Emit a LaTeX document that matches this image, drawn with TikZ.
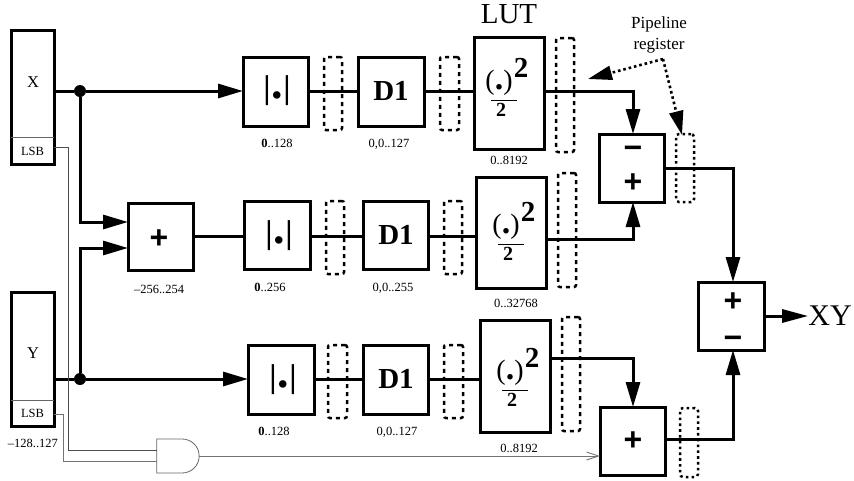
\documentclass[tikz,border=0pt]{standalone}
\usepackage{fontspec}
\setmainfont{Liberation Serif}
\newfontfamily\opfont{Liberation Sans}
\usetikzlibrary{arrows.meta,shapes.gates.logic.US}
\newcommand\bx[6]{\node[#5,minimum width={(#3-#1)*1pt},minimum height={(#4-#2)*1pt}] (#6) at ({(#1+#3)/2},{(#2+#4)/2})}
\newcommand\fsz[1]{\fontsize{#1}{#1}\selectfont}
\newcommand\squared[2]{%
  \node[lutp] (#1p) at #2 {(\textbf{\fsz{34}.})};
  \node[lutsup] (#1s) at ([shift={(22pt,15pt)}]#1p.center) {2};
  \draw[line width=1pt] ([shift={(-8pt,-17pt)}]#1p.center) coordinate (#1a) -- ([shift={(18pt,-17pt)}]#1p.center) coordinate (#1b);
  \node[lutlow] (#1l) at ([shift={(2pt,-27pt)}]#1p.center) {2};}
\tikzset{
  blk/.style={draw=black,line width=3pt,fill=white,inner sep=0pt,outer sep=0pt},
  reg/.style={draw=black,line width=2.5pt,dash pattern=on 4pt off 4pt,rounded corners=2pt,inner sep=0pt,outer sep=0pt},
  dreg/.style={draw=black,line width=2.5pt,dash pattern=on 2.6pt off 3.2pt,rounded corners=3pt,inner sep=0pt,outer sep=0pt},
  wire/.style={line width=3pt},
  arr/.style={wire,-{Triangle[length=25pt,width=14pt]}},
  thinw/.style={line width=.7pt,draw=black!70},
  grayw/.style={line width=.9pt,draw=black!55},
  lab/.style={font=\fsz{12.5},inner sep=0pt,text depth=0pt},
  dotn/.style={circle,fill=black,inner sep=0pt,minimum size=12pt,outer sep=0pt},
  absn/.style={font=\fsz{33}\bfseries,inner sep=0pt},
  dn/.style={font=\fsz{29}\bfseries,inner sep=0pt},
  opn/.style={font=\fsz{32}\opfont\bfseries,inner sep=0pt},
  lutp/.style={font=\fsz{28},inner sep=0pt},
  lutsup/.style={font=\fsz{29}\bfseries,inner sep=0pt},
  lutlow/.style={font=\fsz{20}\bfseries,inner sep=0pt},
  ptr/.style={line width=2.6pt,dash pattern=on 2.6pt off 2.9pt,-{Triangle[length=24pt,width=14pt]}},
}
\newcommand\absg{|\kern.5pt{\fsz{46}.}\kern.5pt|}
\begin{document}
\begin{tikzpicture}[x=1pt,y=-1pt]
\useasboundingbox (0,0) rectangle (854,480);
% rail coordinates
\coordinate (r1) at (0,91);
\coordinate (r2) at (0,236);
\coordinate (r2b) at (0,239);
\coordinate (r3) at (0,379);
\coordinate (r3b) at (0,358);
\coordinate (i1) at (0,222);
\coordinate (i2) at (0,248);
\coordinate (lx) at (68,147);
\coordinate (ly) at (63,414);
\coordinate (subo) at (0,168);
\coordinate (plo) at (0,439);
\coordinate (ax) at (633,0);
\coordinate (bx) at (733,0);
% blocks
\bx{11}{30}{54}{164}{blk}{xreg} {};
\bx{11}{292}{54}{426}{blk}{yreg} {};
\bx{128}{203}{193}{270}{blk}{addp} {};
\bx{243}{57}{308}{126}{blk}{abs1} {};
\bx{358}{57}{424}{126}{blk}{d1} {};
\bx{474}{37}{544}{149}{blk}{lut1} {};
\bx{244}{201}{310}{269}{blk}{abs2} {};
\bx{363}{201}{428}{269}{blk}{d2} {};
\bx{476}{177}{546}{288}{blk}{lut2} {};
\bx{248}{345}{314}{414}{blk}{abs3} {};
\bx{363}{345}{428}{414}{blk}{d3} {};
\bx{480}{320}{550}{432}{blk}{lut3} {};
\bx{599}{134}{664}{202}{blk}{sub} {};
\bx{698}{282}{764}{350}{blk}{add} {};
\bx{600}{407}{665}{475}{blk}{pl} {};
% junctions
\node[dotn] (dx) at (80,91) {};
\node[dotn] (dy) at (80,379) {};
% thick wires
\draw[wire] (xreg.east |- r1) -- (dx);
\draw[arr] (dx) -- (abs1.west |- dx);
\draw[wire] (yreg.east |- r3) -- (dy);
\draw[arr] (dy) -- (abs3.west |- dy);
\draw[arr] (dx) |- (addp.west |- i1);
\draw[arr] (dy) |- (addp.west |- i2);
\draw[wire] (addp.east |- r2) -- (abs2.west |- r2);
\draw[wire] (abs1.east |- r1) -- (d1.west |- r1);
\draw[wire] (d1.east |- r1) -- (lut1.west |- r1);
\draw[wire] (abs2.east |- r2) -- (d2.west |- r2);
\draw[wire] (d2.east |- r2) -- (lut2.west |- r2);
\draw[wire] (abs3.east |- r3) -- (d3.west |- r3);
\draw[wire] (d3.east |- r3) -- (lut3.west |- r3);
\draw[arr] (lut1.east |- r1) -| (ax |- sub.north);
\draw[arr] (lut2.east |- r2b) -| (ax |- sub.south);
\draw[arr] (lut3.east |- r3b) -| (ax |- pl.north);
\draw[arr] (sub.east |- subo) -| (bx |- add.north);
\draw[arr] (pl.east |- plo) -| (bx |- add.south);
\node[inner sep=0pt,font=\fsz{30}] (xy) at (830,316) {XY};
\draw[wire,-{Triangle[length=26pt,width=13pt]}] (add.east) -- (xy.west);
% pipeline registers
\bx{324}{57}{342}{130}{reg}{p1} {};
\bx{440}{57}{459}{130}{reg}{p2} {};
\bx{556}{38}{574}{152}{reg}{p3} {};
\bx{326}{201}{344}{274}{reg}{p4} {};
\bx{444}{201}{462}{274}{reg}{p5} {};
\bx{558}{173}{576}{287}{reg}{p6} {};
\bx{328}{345}{347}{418}{reg}{p7} {};
\bx{444}{345}{463}{418}{reg}{p8} {};
\bx{562}{317}{580}{431}{reg}{p9} {};
\bx{676}{134}{694}{202}{dreg}{p10} {};
\bx{680}{408}{698}{477}{dreg}{p11} {};
% register text
\node[inner sep=0pt,font=\fsz{16.5}] (xt) at (33,82) {X};
\node[inner sep=0pt,font=\fsz{16.5}] (yt) at (33,353) {Y};
\bx{11}{138}{54}{164}{inner sep=0pt,font=\fsz{12.5}}{xlsb} {LSB};
\bx{11}{401}{54}{426}{inner sep=0pt,font=\fsz{12.5}}{ylsb} {LSB};
\draw[line width=.7pt,draw=black!60] (xlsb.north west) -- (xlsb.north east);
\draw[line width=.7pt,draw=black!60] (ylsb.north west) -- (ylsb.north east);
% AND gate and thin wires
\node[and gate US,draw=black!60,line width=.8pt,logic gate inputs=nn,minimum width=35pt,minimum height=34pt,inner sep=0pt,outer sep=0pt,anchor=center] (andg) at (176.5,456) {};
\draw[thinw] (xlsb.east |- lx) -- (lx) |- (andg.input 1);
\draw[grayw] (ylsb.east |- ly) -- (ly) |- (andg.input 2);
\draw[grayw,-{Straight Barb[length=12pt,width=8pt]}] (andg.output) -- (pl.west |- andg.output);
% block contents
\node[absn] (ab1) at (277,91) {\absg};
\node[absn] (ab2) at (279,236) {\absg};
\node[absn] (ab3) at (283,380) {\absg};
\node[dn] (dt1) at (391,91) {D1};
\node[dn] (dt2) at (396,235) {D1};
\node[dn] (dt3) at (396,379) {D1};
\squared{qa}{(499,83)}
\squared{qb}{(506,227)}
\squared{qc}{(510,373)}
\node[opn] (o1) at (159,239.5) {+};
\node[opn] (o2) at (633,152) {−};
\node[opn] (o3) at (633,183.5) {+};
\node[opn] (o4) at (733,302.5) {+};
\node[opn] (o5) at (733,342) {−};
\node[opn] (o6) at (633,441.5) {+};
% labels
\node[lab] (t1) at (277,143) {\textbf{0}..128};
\node[lab] (t2) at (389,143) {0,0..127};
\node[lab] (t3) at (509,160) {0..8192};
\node[lab] (t4) at (159,289) {–256..254};
\node[lab] (t5) at (270,287) {\textbf{0}..256};
\node[lab] (t6) at (393,287) {0,0..255};
\node[lab] (t7) at (516,303) {0..32768};
\node[lab] (t8) at (274,431) {\textbf{0}..128};
\node[lab] (t9) at (397,431) {0,0..127};
\node[lab] (t10) at (519,448) {0..8192};
\node[lab] (t11) at (33,443) {–128..127};
\node[inner sep=0pt,font=\fsz{29}] (lut) at (509,14) {LUT};
\node[inner sep=0pt,font=\fsz{17},text depth=0pt] (pipe1) at (659,23) {Pipeline};
\node[inner sep=0pt,font=\fsz{17},text depth=0pt] (pipe2) at (659,44) {register};
% pointers
\coordinate (pa) at (663,59);
\coordinate (t1p) at (588,79);
\coordinate (t2p) at (682,135);
\draw[ptr] (pa) -- (t1p);
\draw[ptr] (pa) -- (t2p);
\end{tikzpicture}
\end{document}
